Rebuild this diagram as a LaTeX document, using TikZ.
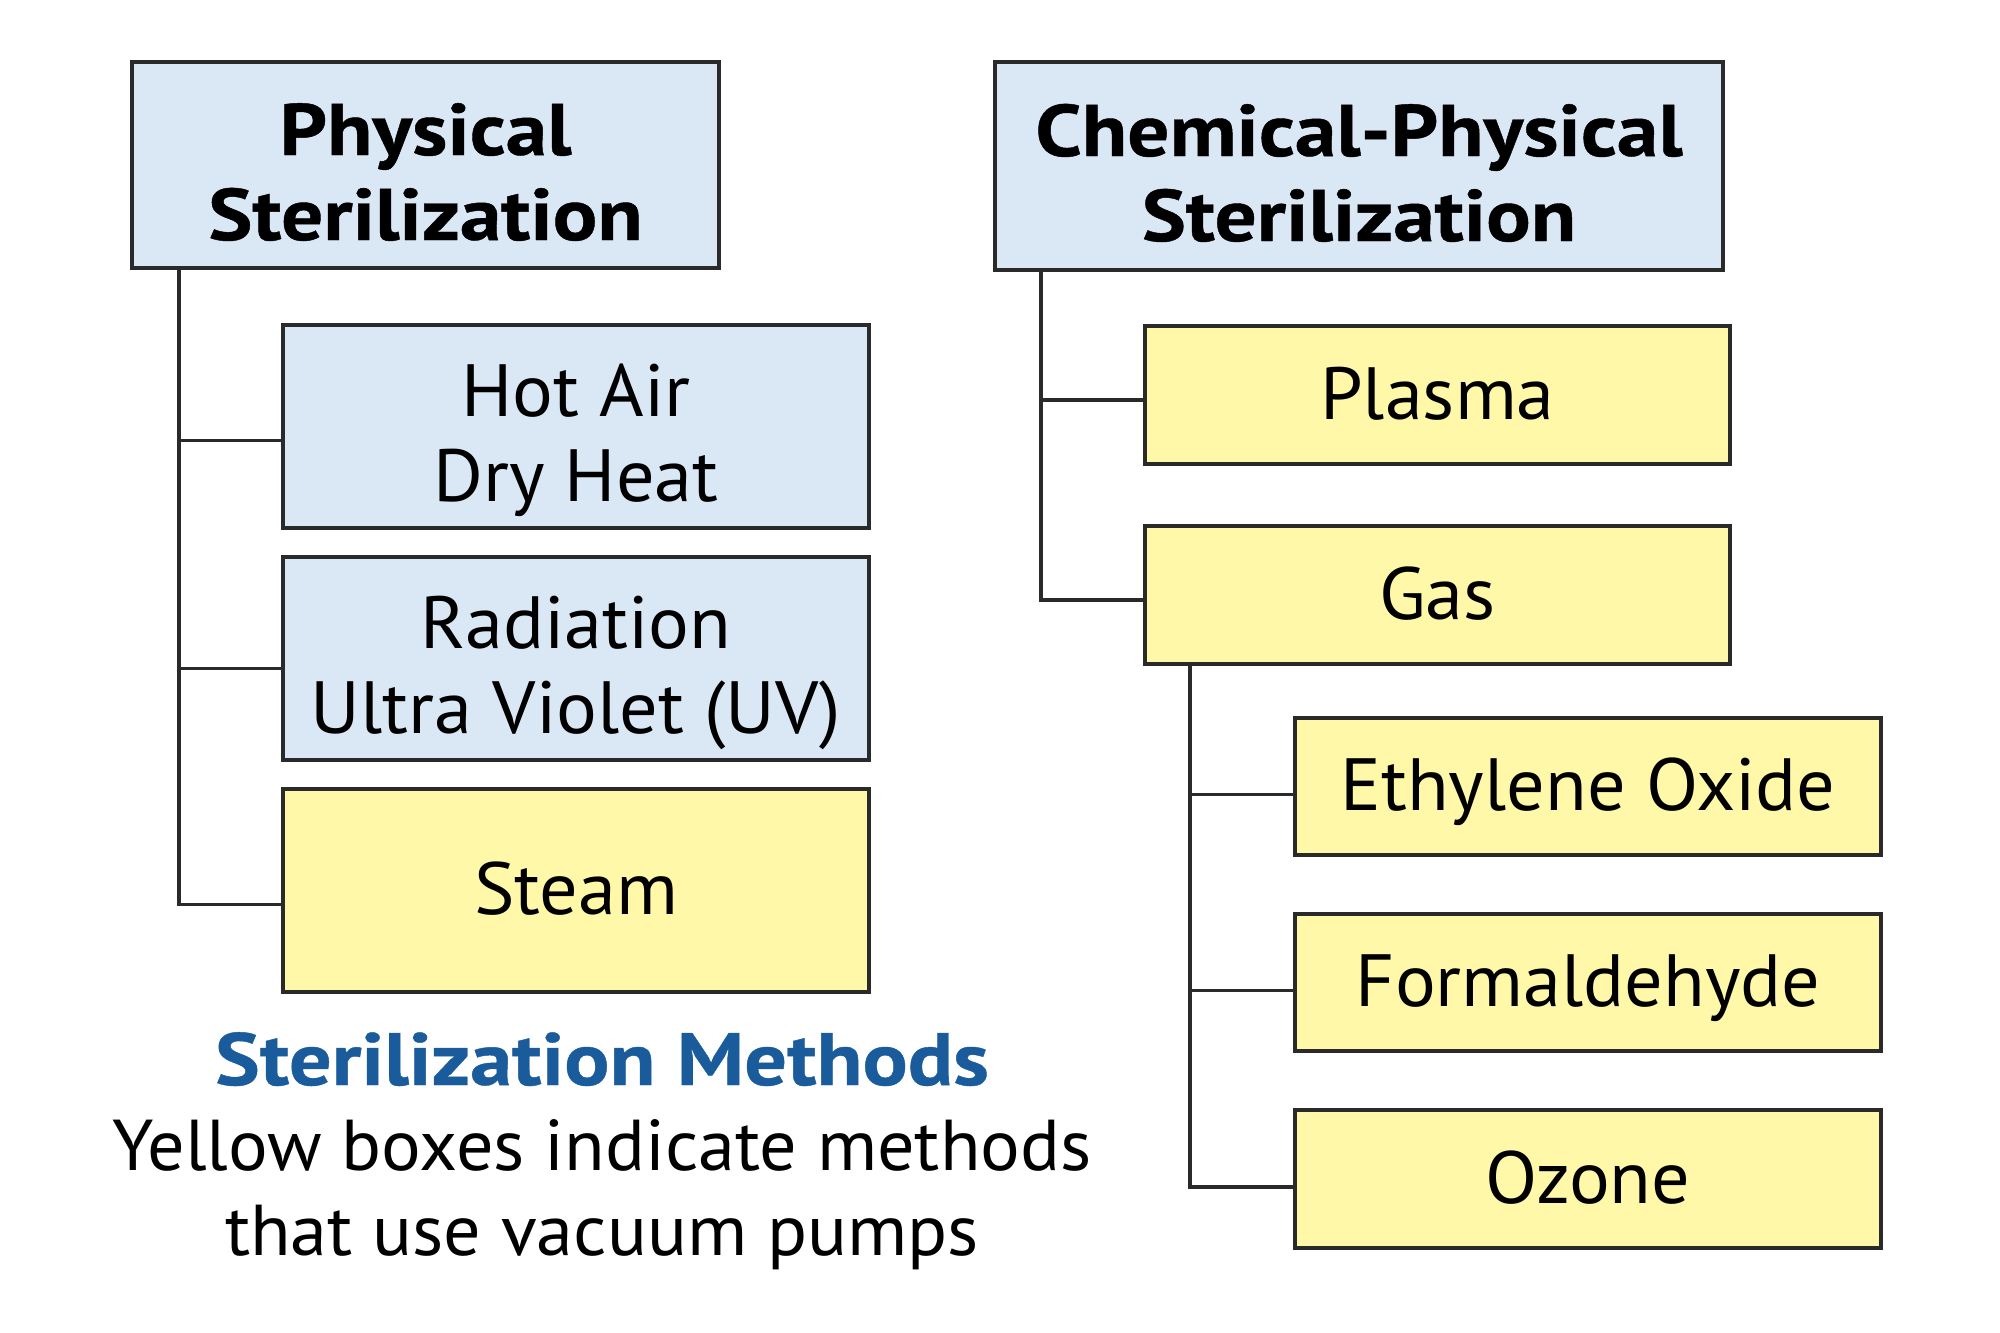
\documentclass[tikz,border=0pt]{standalone}
\usepackage{fontspec}
\setmainfont{PT Sans}[FakeStretch=1.03]
\newfontfamily\headfont{PT Sans}[FakeStretch=1.14, BoldFeatures={FakeBold=0.6}]
\usetikzlibrary{calc}
\definecolor{boxblue}{HTML}{DAE8F6}
\definecolor{boxyellow}{HTML}{FFF8A8}
\definecolor{edgegray}{HTML}{2A2A2A}
\definecolor{titleblue}{HTML}{1A5B9C}
\newcommand{\twolines}[2]{\raisebox{0pt}[60pt][80pt]{\vtop{\baselineskip=85pt\lineskiplimit=-200pt\halign{\hfil##\hfil\cr #1\cr #2\cr}}}}
\tikzset{
  box/.style={draw=edgegray, line width=4pt, inner sep=0pt, font=\fontsize{74}{85}\selectfont},
  bluebox/.style={box, fill=boxblue},
  yellowbox/.style={box, fill=boxyellow},
  headbox/.style={bluebox, font=\fontsize{73}{85}\selectfont\headfont\bfseries},
  single/.style={text height=52pt, text depth=4pt},
  link/.style={draw=edgegray, line width=3.5pt}
}
\begin{document}
\begin{tikzpicture}[x=1pt,y=-1pt]
\useasboundingbox (0,0) rectangle (2000,1333);
% left tree
\node[headbox, minimum width=587pt, minimum height=206pt] (phys) at (425.5,165) {\twolines{Physical}{Sterilization}};
\node[bluebox, minimum width=586pt, minimum height=203pt] (hot) at (576,426.5) {\twolines{Hot Air}{Dry Heat}};
\node[bluebox, minimum width=586pt, minimum height=203pt] (rad) at (576,658.5) {\twolines{Radiation}{Ultra Violet (UV)}};
\node[yellowbox, single, minimum width=586pt, minimum height=203pt] (steam) at (576,890.5) {Steam};
% right tree
\node[headbox, minimum width=728pt, minimum height=208pt] (chem) at (1359,166) {\twolines{Chemical-Physical}{Sterilization}};
\node[yellowbox, single, minimum width=585pt, minimum height=138pt] (plasma) at (1437.5,395) {Plasma};
\node[yellowbox, single, minimum width=585pt, minimum height=138pt] (gas) at (1437.5,595) {Gas};
\node[yellowbox, single, minimum width=586pt, minimum height=137pt] (eth) at (1588,786.5) {Ethylene Oxide};
\node[yellowbox, single, minimum width=586pt, minimum height=137pt] (form) at (1588,982.5) {Formaldehyde};
\node[yellowbox, single, minimum width=586pt, minimum height=138pt] (ozone) at (1588,1179) {Ozone};
% caption
\node[anchor=base, inner sep=0pt, font=\fontsize{72}{85}\selectfont] (caption) at (602,1085)
  {\vtop{\baselineskip=85pt\lineskiplimit=-200pt\halign{\hfil#\hfil\cr {\headfont\fontsize{74}{85}\selectfont\bfseries\color{titleblue}Sterilization Methods}\cr Yellow boxes indicate methods\cr that use vacuum pumps\cr}}};
% connectors
\coordinate (lx) at (179,0);
\coordinate (rx) at (1041,0);
\coordinate (gx) at (1190,0);
\coordinate (thot) at ($(hot.west)+(0,14)$);
\coordinate (trad) at ($(rad.west)+(0,10)$);
\coordinate (tsteam) at ($(steam.west)+(0,14)$);
\coordinate (tplasma) at ($(plasma.west)+(0,5)$);
\coordinate (tgas) at ($(gas.west)+(0,5)$);
\coordinate (teth) at ($(eth.west)+(0,8)$);
\coordinate (tform) at ($(form.west)+(0,8)$);
\coordinate (tozone) at ($(ozone.west)+(0,8)$);
\draw[link] (phys.south -| lx) |- (tsteam);
\draw[link] (thot -| lx) -- (thot);
\draw[link] (trad -| lx) -- (trad);
\draw[link] (chem.south -| rx) |- (tgas);
\draw[link] (tplasma -| rx) -- (tplasma);
\draw[link] (gas.south -| gx) |- (tozone);
\draw[link] (teth -| gx) -- (teth);
\draw[link] (tform -| gx) -- (tform);
\end{tikzpicture}
\end{document}
